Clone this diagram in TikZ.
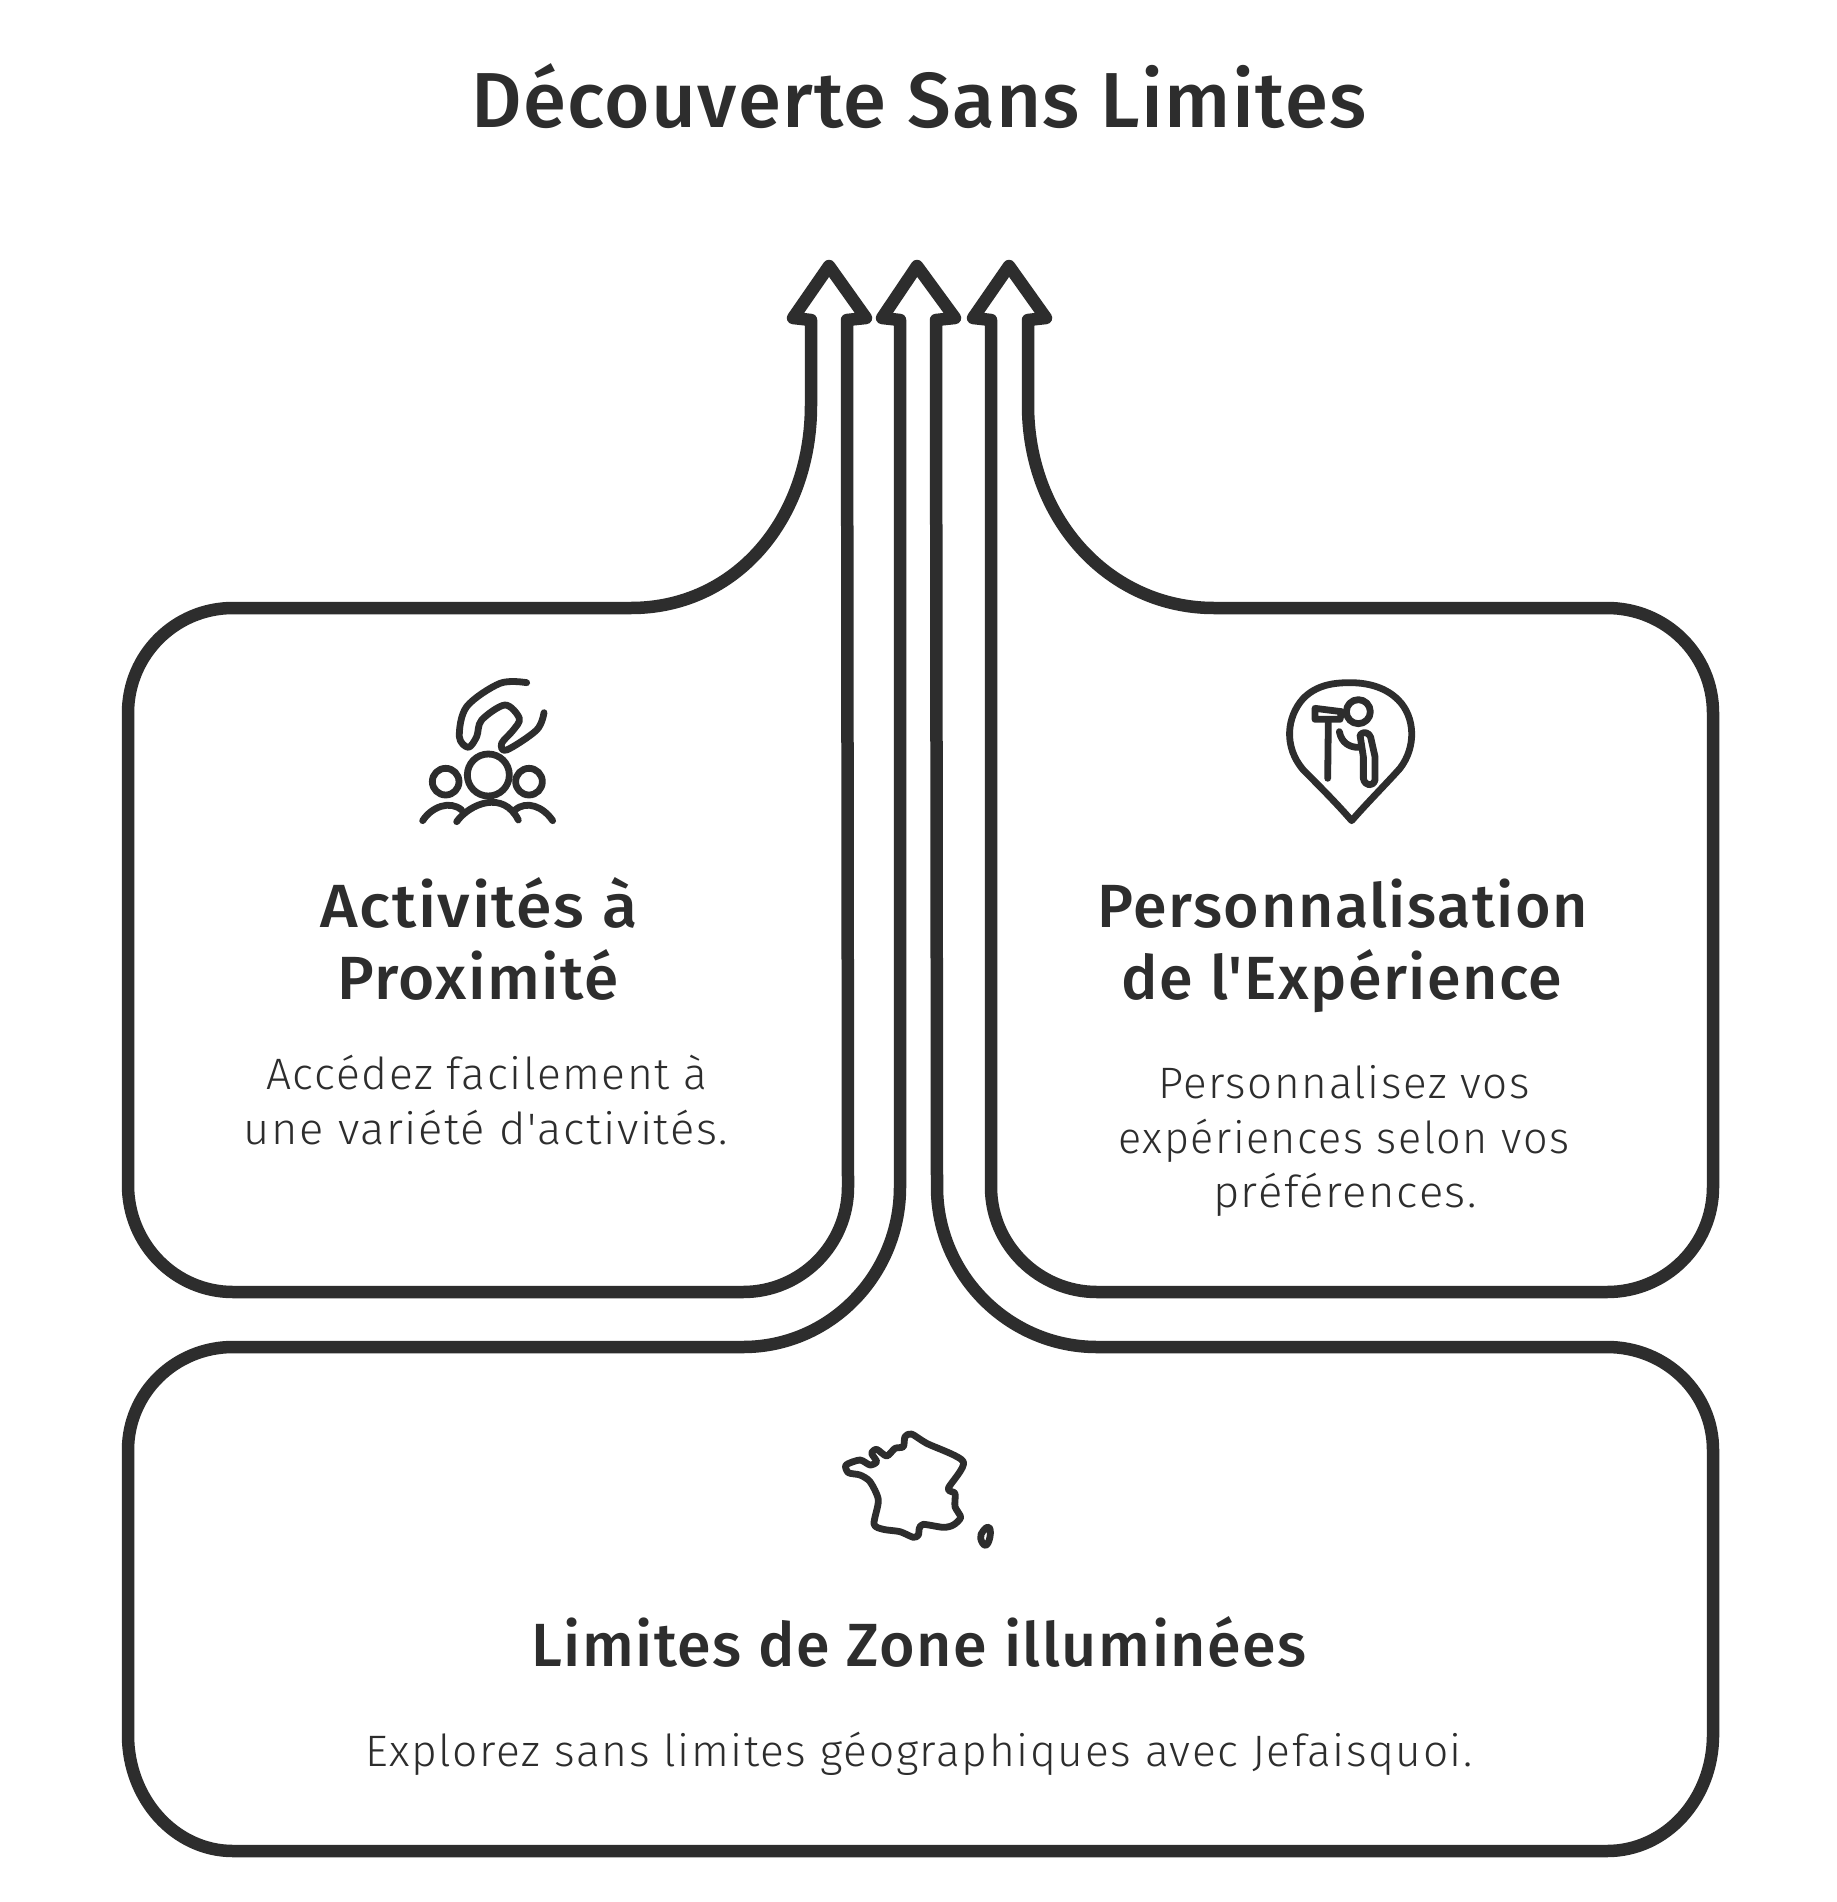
\documentclass[tikz,border=0pt]{standalone}
\usepackage{fontspec}
\setmainfont{Noto Sans}
\newfontfamily\lightf[LetterSpace=3.6]{Fira Sans Light}
\newfontfamily\headf[LetterSpace=2.5]{Fira Sans Medium}
\newfontfamily\titlef[LetterSpace=1.7]{Fira Sans Medium}
\definecolor{ink}{HTML}{2D2D2D}
\tikzset{
  outline/.style={draw=ink,line width=12.5pt,line join=round,line cap=round},
  icon/.style={draw=ink,line width=6.8pt,line join=round,line cap=round},
  titletext/.style={text=ink,inner sep=0pt,anchor=base,font=\titlef\fontsize{78}{84}\selectfont},
  headtext/.style={text=ink,inner sep=0pt,anchor=base,font=\headf\fontsize{61}{66}\selectfont},
  bodytext/.style={text=ink,inner sep=0pt,anchor=base,font=\lightf\fontsize{44}{50}\selectfont},
}
\begin{document}
\begin{tikzpicture}[x=1pt,y=-1pt]
\path[use as bounding box,fill=white] (0,0) rectangle (1836,1902);
% left arrow box
\draw[outline] (847,320) -- (866,318) -- (829,266) -- (793,318) -- (811,320) -- (811,405)
  .. controls (811,520) and (735,608) .. (631,608) -- (233,608)
  .. controls (175,608) and (128,655) .. (128,713) -- (128,1185)
  .. controls (128,1244) and (175,1292) .. (233,1292) -- (743,1292)
  .. controls (801,1292) and (848,1245) .. (848,1187) -- cycle;
% middle arrow box
\draw[outline] (936,320) -- (955,318) -- (917,266) -- (882,318) -- (900,320) -- (900,1187)
  .. controls (900,1275) and (830,1347) .. (743,1347) -- (233,1347)
  .. controls (175,1347) and (128,1393) .. (128,1450) -- (128,1735)
  .. controls (128,1799) and (175,1851) .. (233,1851) -- (1607,1851)
  .. controls (1666,1851) and (1713,1799) .. (1713,1735) -- (1713,1450)
  .. controls (1713,1393) and (1666,1347) .. (1607,1347) -- (1097,1347)
  .. controls (1009,1347) and (937,1275) .. (937,1187) -- cycle;
% right arrow box
\draw[outline] (1028,320) -- (1046,318) -- (1009,266) -- (973,318) -- (991,320) -- (991,1187)
  .. controls (991,1245) and (1039,1292) .. (1097,1292) -- (1607,1292)
  .. controls (1666,1292) and (1713,1245) .. (1713,1187) -- (1713,713)
  .. controls (1713,655) and (1666,608) .. (1607,608) -- (1214,608)
  .. controls (1110,608) and (1028,520) .. (1028,405) -- cycle;
% texts
\node[titletext] (title) at (919,128) {Découverte Sans Limites};
\node[headtext] (h1a) at (479,927) {\scalebox{1.057}[1]{Activités à}};
\node[headtext] (h1b) at (478,999) {\scalebox{1.02}[1]{Proximité}};
\node[bodytext] (b1a) at (487,1089) {\scalebox{1.008}[1]{Accédez facilement à}};
\node[bodytext] (b1b) at (486,1144) {\scalebox{1.028}[1]{une variété d'activités.}};
\node[headtext] (h2a) at (1343,927) {Personnalisation};
\node[headtext] (h2b) at (1342,999) {de l'Expérience};
\node[bodytext] (b2a) at (1344,1098) {Personnalisez vos};
\node[bodytext] (b2b) at (1344,1153) {\scalebox{.98}[1]{expériences selon vos}};
\node[bodytext] (b2c) at (1345,1207) {\scalebox{1.03}[1]{préférences.}};
\node[headtext] (h3) at (919,1666) {Limites de Zone illuminées};
\node[bodytext] (b3) at (919,1766) {\scalebox{1.008}[1]{Explorez sans limites géographiques avec Jefaisquoi.}};
% people icon
\begin{scope}[shift={(400,650)},scale=1/3]
\draw[icon] plot[smooth,tension=.55] coordinates {(380,98) (300,100) (200,170) (178,260) (205,292) (230,260) (245,210) (315,165) (358,205) (340,240) (305,280) (320,300) (410,240) (432,188)};
\draw[icon] (265,375) circle[radius=63];
\draw[icon] (137,395) circle[radius=40];
\draw[icon] (387,395) circle[radius=40];
\draw[icon] (170,515) .. controls (210,460) and (310,420) .. (355,510);
\draw[icon] (68,512) .. controls (95,470) and (150,450) .. (185,480);
\draw[icon] (345,480) .. controls (380,450) and (430,470) .. (458,512);
\end{scope}
% explorer icon
\begin{scope}[shift={(1260,660)},scale=1/3]
\draw[icon] (275,482) .. controls (230,430) and (170,370) .. (130,330) .. controls (70,260) and (80,170) .. (130,115) .. controls (170,75) and (220,68) .. (270,68) .. controls (330,68) and (380,85) .. (415,120) .. controls (465,170) and (470,260) .. (420,325) .. controls (380,370) and (320,430) .. (275,482) -- cycle;
\draw[icon] (295,155) circle[radius=36];
\draw[icon] (165,145) -- (245,155) -- (240,178) -- (165,178) -- cycle;
\draw[icon] (205,185) -- (203,355);
\draw[icon] (238,215) .. controls (245,250) and (270,262) .. (295,262);
\draw[icon] (300,225) .. controls (310,212) and (328,218) .. (332,232) -- (345,290) -- (345,360) .. controls (340,380) and (315,380) .. (310,355) -- (310,290) -- cycle;
\end{scope}
% France icon
\begin{scope}[shift={(820,1410)},scale=1/3]
\draw[icon] plot[smooth cycle,tension=.45] coordinates {(78,165) (120,150) (150,165) (170,155) (155,130) (170,118) (200,138) (225,115) (250,110) (255,80) (275,72) (320,100) (430,155) (385,235) (405,250) (405,290) (422,322) (400,345) (370,352) (310,343) (298,355) (295,375) (280,382) (240,365) (190,358) (162,342) (175,270) (150,215) (120,195) (85,188)};
\draw[icon] plot[smooth cycle,tension=.8] coordinates {(507,352) (510,380) (497,406) (482,385) (490,362)};
\end{scope}
\end{tikzpicture}
\end{document}
